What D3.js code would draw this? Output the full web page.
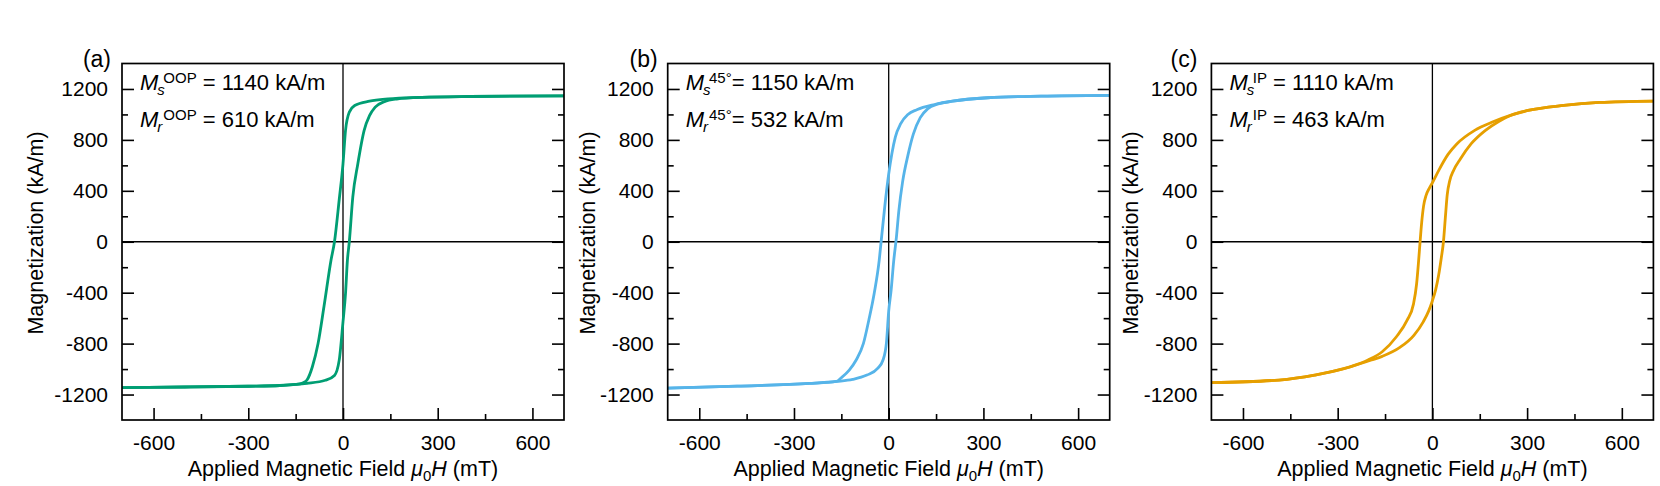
<!DOCTYPE html>
<meta charset="utf-8">
<style>

body { margin: 0; background: #fff; }

text { font-family: "Liberation Sans", Arial, sans-serif; fill: #000; }

.frame {
  fill: none;
  stroke: #000;
  stroke-width: 1.7px;
}

.zero {
  stroke: #000;
  stroke-width: 1.3px;
}

.axis line { stroke: #000; stroke-width: 1.6px; }

.loop {
  fill: none;
  stroke-width: 2.8px;
  stroke-linejoin: round;
}

</style>
<body>
<script src="https://d3js.org/d3.v7.min.js"></script>
<script>

//
// Data (field in mT, magnetization in kA/m)
//

var fieldTicks = [-600, -300, 0, 300, 600];
var fieldMinor = [-450, -150, 150, 450];
var magTicks = [-1200, -800, -400, 0, 400, 800, 1200];
var magMinor = [-1000, -600, -200, 200, 600, 1000];

var panelLabels = ["(a)", "(b)", "(c)"];
var supLabels = ["OOP", "45\u00b0", "IP"];
var msValues = [1140, 1150, 1110];
var mrValues = [610, 532, 463];
var spaceBeforeEq = [true, false, true];
var colors = ["#009E73", "#56B4E9", "#E69F00"];

// (a) out-of-plane: descending and ascending branches
var oopDown = [[-700,-1145],[-500,-1141],[-300,-1135],[-200,-1129],[-150,-1121],[-128,-1110],[-114,-1086],
  [-97,-982],[-79,-800],[-60,-505],[-38,-145],[-27,0],[-12,330],[0,612],[8,875],[20,1018],[37,1070],
  [84,1104],[143,1122],[250,1134],[400,1141],[700,1146]];
var oopUp = [[-700,-1146],[-500,-1141],[-300,-1135],[-200,-1129],[-150,-1121],[-114,-1112],[-56,-1088],
  [-27,-1050],[-12,-930],[0,-630],[8,-406],[14,-145],[20,0],[31,350],[47,613],[67,875],[84,990],
  [102,1057],[131,1100],[170,1121],[250,1134],[400,1141],[700,1146]];

// (b) 45 degrees
var d45Down = [[-700,-1150],[-480,-1134],[-250,-1113],[-165,-1097],[-150,-1068],[-125,-1008],[-103,-929],
  [-80,-798],[-63,-616],[-46,-406],[-30,-145],[-24,0],[-12.6,273],[0,532],[10,692],[21,822],[38,927],
  [61,1000],[89,1037],[145,1078],[202,1104],[314,1131],[483,1144],[700,1150]];
var d45Up = [[-700,-1150],[-480,-1134],[-250,-1113],[-165,-1097],[-114,-1081],[-69,-1047],[-35,-995],
  [-18,-929],[-7,-790],[0,-545],[7.7,-380],[15.5,-160],[24.6,40],[32,240],[44,470],[61,680],[78,845],
  [100,975],[123,1043],[157,1082],[202,1104],[314,1131],[483,1144],[700,1150]];

// (c) in-plane
var ipDown = [[-700,-1107],[-486,-1086],[-373,-1047],[-260,-982],[-204,-929],[-159,-864],[-114,-746],
  [-80,-616],[-60,-490],[-50,-330],[-44,-160],[-39,0],[-34,150],[-28,280],[-20,365],[-10,420],[0,463],
  [21,565],[50,688],[78,770],[134,875],[190,940],[247,992],[303,1031],[416,1071],[529,1094],[700,1105]];
var ipUp = [[-700,-1107],[-486,-1086],[-373,-1047],[-260,-982],[-193,-929],[-159,-900],[-103,-830],
  [-58,-733],[-29,-629],[-12,-545],[0,-463],[10,-380],[20,-260],[28,-130],[35,0],[41,190],[47,370],
  [55,480],[67,560],[89,652],[123,770],[168,875],[210,945],[247,992],[303,1031],[416,1071],[529,1094],[700,1105]];

var branches = [[oopDown, oopUp], [d45Down, d45Up], [ipDown, ipUp]];

//
// Layout
//

var svgWidth = 1660, svgHeight = 486;
var plotTop = 63.5, plotBottom = 420, plotW = 442;
var plotH = plotBottom - plotTop;
var plotLefts = [122, 667.7, 1211.4];
var yTitleOffsets = [79, 73, 73];
var labelOffsets = [11, 10, 14];
var fontSize = 22, tickSize = 21, titleSize = 21.5, smallSize = 15, labelSize = 23;

var x = d3.scaleLinear().domain([-700, 700]).range([0, plotW]);
var y = d3.scaleLinear().domain([-1400, 1400]).range([plotH, 0]);

var line = d3.line()
    .curve(d3.curveMonotoneX)
    .x(function(d) { return x(d[0]); })
    .y(function(d) { return y(d[1]); });

var fmt = function(d) { return String(d); };

var svg = d3.select("body").append("svg")
    .attr("width", svgWidth)
    .attr("height", svgHeight);

function styleAxis(a) {
  a.select(".domain").remove();
  a.attr("font-size", tickSize).attr("font-family", null);
}

function annotate(g, yPos, sub, sup, rest) {
  var x0 = 18;
  var m = g.append("text").attr("x", x0).attr("y", yPos)
      .attr("font-size", fontSize).attr("font-style", "italic").text("M");
  var mw = m.node().getComputedTextLength();
  g.append("text").attr("x", x0 + mw - 1).attr("y", yPos + 5)
      .attr("font-size", smallSize).attr("font-style", "italic").text(sub);
  var s = g.append("text").attr("x", x0 + mw + 5).attr("y", yPos - 7)
      .attr("font-size", smallSize).text(sup);
  var sw = s.node().getComputedTextLength();
  g.append("text").attr("x", x0 + mw + 5 + sw).attr("y", yPos)
      .attr("font-size", fontSize)
      .style("white-space", "pre").text(rest);
}

//
// Panels
//

panelLabels.forEach(function(label, i) {

  var g = svg.append("g")
      .attr("transform", "translate(" + plotLefts[i] + "," + plotTop + ")");

  // zero lines
  g.append("line").attr("class", "zero")
      .attr("x1", x(0)).attr("x2", x(0)).attr("y1", 0).attr("y2", plotH);
  g.append("line").attr("class", "zero")
      .attr("x1", 0).attr("x2", plotW).attr("y1", y(0)).attr("y2", y(0));

  // hysteresis loop
  branches[i].forEach(function(b) {
    g.append("path")
        .datum(b)
        .attr("class", "loop")
        .style("stroke", colors[i])
        .attr("d", line);
  });

  // axes, ticks inward
  g.append("g").attr("class", "axis")
      .attr("transform", "translate(0," + plotH + ")")
      .call(d3.axisBottom(x).tickValues(fieldTicks).tickSize(-12).tickPadding(15).tickFormat(fmt))
      .call(styleAxis);
  g.append("g").attr("class", "axis")
      .attr("transform", "translate(0," + plotH + ")")
      .call(d3.axisBottom(x).tickValues(fieldMinor).tickSize(-6).tickFormat(""))
      .call(styleAxis);
  g.append("g").attr("class", "axis")
      .call(d3.axisLeft(y).tickValues(magTicks).tickSize(-12).tickPadding(14).tickFormat(fmt))
      .call(styleAxis);
  g.append("g").attr("class", "axis")
      .call(d3.axisLeft(y).tickValues(magMinor).tickSize(-6).tickFormat(""))
      .call(styleAxis);
  g.append("g").attr("class", "axis")
      .attr("transform", "translate(" + plotW + ",0)")
      .call(d3.axisRight(y).tickValues(magTicks).tickSize(-12).tickFormat(""))
      .call(styleAxis);
  g.append("g").attr("class", "axis")
      .attr("transform", "translate(" + plotW + ",0)")
      .call(d3.axisRight(y).tickValues(magMinor).tickSize(-6).tickFormat(""))
      .call(styleAxis);

  g.append("rect").attr("class", "frame")
      .attr("width", plotW).attr("height", plotH);

  // axis titles
  g.append("text")
      .attr("transform", "translate(" + (-yTitleOffsets[i]) + "," + (233 - plotTop) + ") rotate(-90)")
      .attr("text-anchor", "middle")
      .attr("font-size", titleSize)
      .text("Magnetization (kA/m)");

  var xt = g.append("text")
      .attr("x", plotW / 2)
      .attr("y", 475.5 - plotTop)
      .attr("text-anchor", "middle")
      .attr("font-size", titleSize);
  xt.append("tspan").text("Applied Magnetic Field ");
  xt.append("tspan").attr("font-style", "italic").text("\u03bc");
  xt.append("tspan").attr("font-size", smallSize).attr("dy", 5).text("0");
  xt.append("tspan").attr("font-style", "italic").attr("dy", -5).text("H");
  xt.append("tspan").text(" (mT)");

  // panel label
  g.append("text")
      .attr("x", -labelOffsets[i])
      .attr("y", 67 - plotTop)
      .attr("text-anchor", "end")
      .attr("font-size", labelSize)
      .text(label);

  // saturation / remanence annotation
  var sp = spaceBeforeEq[i] ? " " : "";
  annotate(g, 90 - plotTop, "s", supLabels[i], sp + "= " + msValues[i] + " kA/m");
  annotate(g, 126.5 - plotTop, "r", supLabels[i], sp + "= " + mrValues[i] + " kA/m");
});

</script>
</body>
